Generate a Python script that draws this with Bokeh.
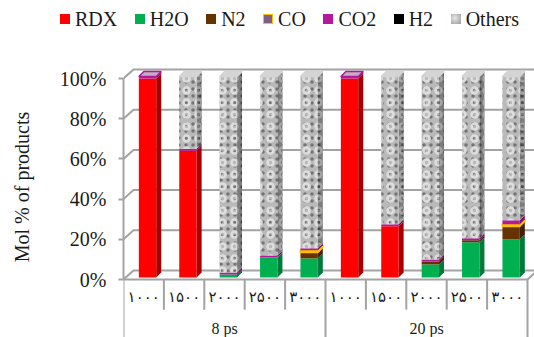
import numpy as np
from bokeh.plotting import figure
from bokeh.layouts import column
from bokeh.models import Range1d, FixedTicker, PrintfTickFormatter, Div
from bokeh.embed import file_html
from bokeh.resources import INLINE
from bokeh.core.properties import value

# ---- data: mol % of products for each temperature / simulation time ----
temps = ["۱۰۰۰", "۱۵۰۰", "۲۰۰۰", "۲۵۰۰", "۳۰۰۰"] * 2
groups = ["8 ps", "20 ps"]
species = ["RDX", "H2O", "N2", "CO", "CO2", "H2", "Others"]
rdx = [99, 63, 0, 0, 0, 99, 25.5, 0, 0, 0]
h2o = [0, 0, 1.5, 10, 9.5, 0, 0, 6.5, 17.5, 19]
n2 = [0, 0, 0, 0, 3, 0, 0, 1.5, 1, 6.5]
co = [0, 0, 0, 0, 1, 0, 0, 0, 0, 1]
co2 = [1, 1, 1, 1, 1, 1, 1, 1, 1, 2]
h2 = [0, 0, 0, 0, 0, 0, 0, 0, 0, 0]
others = [0, 36, 97.5, 89, 85.5, 0, 73.5, 91, 80.5, 71.5]
y_ticks = [0, 20, 40, 60, 80, 100]

series = [rdx, h2o, n2, co, co2, h2, others]

# ---- styling ----
FONT = "Liberation Serif, DejaVu Sans"
GRID = "#a3a3a3"
TEXT = "#1a1a1a"
front_fill = {"RDX": "#ff0000", "H2O": "#00b050", "N2": "#663300", "CO": "#7f6084",
              "CO2": "#b4189c", "H2": "#000000", "Others": "#b9b9b9"}
front_line = {"CO": "#ffc000"}
side_fill = {"RDX": "#a80000", "H2O": "#007a3a", "N2": "#3f1f00", "CO": "#d9a200",
             "CO2": "#7e0e6c", "H2": "#000000", "Others": "#7c7c7c"}
top_fill = {"RDX": "#ff6060", "H2O": "#40d080", "N2": "#8a5520", "CO": "#ffd040",
            "CO2": "#c0b0c0", "H2": "#303030", "Others": "#d4d4d4"}
top_line = {"CO2": "#b4189c"}
# two overlaid hatch layers give the stone-like "Others" fill
stone_front = [dict(hatch_pattern="dot", hatch_scale=7, hatch_color="#6c6c6c",
                    hatch_weight=1.5, hatch_alpha=0.9),
               dict(hatch_pattern="ring", hatch_scale=12, hatch_color="#e2e2e2",
                    hatch_weight=2.5, hatch_alpha=0.9)]
stone_side = [dict(hatch_pattern="dot", hatch_scale=7, hatch_color="#444444",
                   hatch_weight=1.5, hatch_alpha=0.9),
              dict(hatch_pattern="ring", hatch_scale=12, hatch_color="#a8a8a8",
                   hatch_weight=2.5, hatch_alpha=0.9)]

W, H = 534, 337
LEG_H = 36      # height of the legend strip above the chart
PX_X = 40.4     # pixels per category
PX_Y = 2.01     # pixels per percent
LEFT = 123
FRAME_H = H - LEG_H
ZERO_PX = 279 - LEG_H   # pixel row of the 0 % tick inside the chart

x_end = (W - LEFT) / PX_X
y_end = ZERO_PX / PX_Y
y_start = (ZERO_PX - FRAME_H) / PX_Y

wall_dx, wall_dy = 10 / PX_X, 9 / PX_Y      # depth of the back wall
bar_dx, bar_dy = 5 / PX_X, 5 / PX_Y         # depth of each bar
bar_off, bar_w, bar_lift = 0.38, 0.43, 1.0  # bar placement in a category

p = figure(width=W, height=FRAME_H, x_range=Range1d(0, x_end),
           y_range=Range1d(y_start, y_end), output_backend="svg", toolbar_location=None,
           x_axis_location=None, min_border_left=LEFT, min_border_right=0,
           min_border_top=0, min_border_bottom=0)
p.outline_line_color = None
p.xgrid.visible = False
p.ygrid.visible = False

# ---- y axis ----
ax = p.yaxis[0]
ax.ticker = FixedTicker(ticks=y_ticks)
ax.formatter = PrintfTickFormatter(format="%d%%")
ax.bounds = (0, 100)
ax.axis_line_color = GRID
ax.axis_line_width = 2
ax.major_tick_line_color = GRID
ax.major_tick_line_width = 2
ax.major_tick_out = 5
ax.major_tick_in = 0
ax.minor_tick_out = 0
ax.minor_tick_in = 0
ax.major_label_text_font = "Liberation Serif"
ax.major_label_text_font_size = "20px"
ax.major_label_text_color = TEXT
ax.major_label_standoff = 12
ax.axis_label = "Mol % of products"
ax.axis_label_text_font = "Liberation Serif"
ax.axis_label_text_font_size = "20px"
ax.axis_label_text_font_style = "normal"
ax.axis_label_text_color = TEXT
ax.axis_label_standoff = 24

# ---- walls: gridlines on the left and back walls ----
gx = [[0, wall_dx, x_end] for _ in y_ticks]
gy = [[t, t + wall_dy, t + wall_dy] for t in y_ticks]
p.multi_line(gx, gy, line_color=GRID, line_width=2)
n = len(temps)
p.line([0, n, n + wall_dx], [0, 0, wall_dy], line_color=GRID, line_width=2)

# ---- category table under the chart ----
inner = [i for i in range(1, n) if i != n // 2]
outer = [0, n // 2, n]
p.segment(x0=inner, y0=[0] * len(inner), x1=inner, y1=[-15] * len(inner),
          line_color=GRID, line_width=2)
p.segment(x0=outer, y0=[0] * 3, x1=outer, y1=[y_start] * 3, line_color=GRID, line_width=2)
p.text(x=[i + 0.5 for i in range(n)], y=[-8.5] * n, text=temps, text_align="center",
       text_baseline="middle", text_font=value(FONT), text_font_size="15px",
       text_color=TEXT)
p.text(x=[n / 4, 3 * n / 4], y=[-24.5, -24.5], text=groups, text_align="center",
       text_baseline="middle", text_font=value("Liberation Serif"), text_font_size="16px",
       text_color=TEXT)

# ---- 3-D stacked bars ----
vals = np.array(series, dtype=float)
bottoms = np.vstack([np.zeros(n), np.cumsum(vals, axis=0)[:-1]])
for k, name in enumerate(species):
    idx = [i for i in range(n) if vals[k, i] > 0]
    if not idx:
        continue
    left = [i + bar_off for i in idx]
    right = [i + bar_off + bar_w for i in idx]
    bot = [bottoms[k, i] + bar_lift for i in idx]
    top = [bottoms[k, i] + vals[k, i] + bar_lift for i in idx]
    lc = front_line.get(name)
    sx = [[r, r + bar_dx, r + bar_dx, r] for r in right]
    sy = [[b, b + bar_dy, t + bar_dy, t] for b, t in zip(bot, top)]
    p.patches(sx, sy, fill_color=side_fill[name], line_color=lc,
              line_width=1.5 if lc else 0)
    p.quad(left=left, right=right, bottom=bot, top=top, fill_color=front_fill[name],
           line_color=lc, line_width=2 if lc else 0)
    if name == "Others":
        for hs, hf in zip(stone_side, stone_front):
            p.patches(sx, sy, fill_alpha=0, line_color=None, **hs)
            p.quad(left=left, right=right, bottom=bot, top=top, fill_alpha=0,
                   line_color=None, **hf)

# top faces of each bar
tx, ty, tf, tl = [], [], [], []
for i in range(n):
    kt = [k for k in range(len(species)) if vals[k, i] > 0][-1]
    name = species[kt]
    t = bottoms[kt, i] + vals[kt, i] + bar_lift
    l, rr = i + bar_off, i + bar_off + bar_w
    tx.append([l, l + bar_dx, rr + bar_dx, rr])
    ty.append([t, t + bar_dy, t + bar_dy, t])
    tf.append(top_fill[name])
    tl.append(top_line.get(name, top_fill[name]))
p.patches(tx, ty, fill_color=tf, line_color=tl, line_width=1.5)

# ---- legend strip across the top ----
swatch_extra = {
    "CO": "border:1.5px solid #ffc000;",
    "Others": "background:radial-gradient(circle at 40% 40%, #e6e6e6, #9a9a9a);",
}
entries = []
for name in species:
    style = ("display:inline-block;box-sizing:border-box;width:10px;height:10px;"
             f"margin-right:5px;background:{front_fill[name]};" + swatch_extra.get(name, ""))
    entries.append(f"<span style='display:inline-flex;align-items:center;margin-right:17.5px'>"
                   f"<span style='{style}'></span>{name}</span>")
legend_html = ("<div style=\"display:flex;align-items:center;height:22px;padding:16px 0 0 60px;"
               f"font-family:'Liberation Serif';font-size:20px;line-height:22px;color:{TEXT};"
               f"white-space:nowrap\">{''.join(entries)}</div>")
legend = Div(text=legend_html, width=W, height=LEG_H, margin=0)

page = column(legend, p, spacing=0)
open("out.html", "w").write(file_html(page, INLINE))
